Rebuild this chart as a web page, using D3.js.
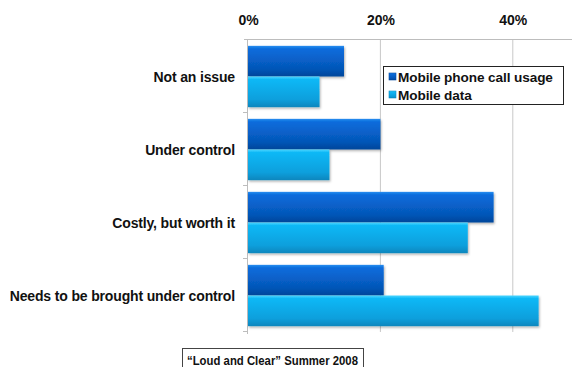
<!DOCTYPE html>
<html>
<head>
<meta charset="utf-8">
<script src="https://cdn.jsdelivr.net/npm/d3@7"></script>
<style>
  html, body { margin: 0; padding: 0; background: #fff; }
  svg { display: block; }
  text { font-family: "Liberation Sans", Arial, sans-serif; }
</style>
</head>
<body>
<script>
// Survey answers about mobile spending, share of respondents (%)
const categories = ["Not an issue", "Under control", "Costly, but worth it", "Needs to be brought under control"];
const seriesNames = ["Mobile phone call usage", "Mobile data"];
const callUsage = [14.5, 20.0, 37.1, 20.5];
const mobileData = [10.8, 12.3, 33.2, 43.9];
const tickValues = [0, 20, 40];
const sourceNote = "\u201CLoud and Clear\u201D Summer 2008";

const W = 572, H = 367;
const margin = { left: 248, top: 40 };
const bandStep = 73;
const plotBottom = margin.top + categories.length * bandStep;

const svg = d3.select("body").append("svg").attr("width", W).attr("height", H);
const defs = svg.append("defs");

// vertical gradients give the bars a slightly bevelled look
const gradients = [
  { id: "g0", stops: ["#2a8ef0", "#0a6cdc", "#0556b8", "#04469a"] },
  { id: "g1", stops: ["#4ad6ff", "#10b8f6", "#0a9fdc", "#0886bd"] }
];
gradients.forEach(g => {
  const lg = defs.append("linearGradient").attr("id", g.id)
    .attr("x1", 0).attr("y1", 0).attr("x2", 0).attr("y2", 1);
  [0, 0.1, 0.75, 1].forEach((o, i) =>
    lg.append("stop").attr("offset", o).attr("stop-color", g.stops[i]));
});
const shadow = defs.append("filter").attr("id", "shadow")
  .attr("x", "-5%").attr("y", "-10%").attr("width", "115%").attr("height", "130%");
shadow.append("feDropShadow").attr("dx", 1).attr("dy", 1.5)
  .attr("stdDeviation", 1).attr("flood-color", "#000").attr("flood-opacity", 0.3);

// percent scale: 20 points span 132 px
const x = d3.scaleLinear().domain([0, 100]).range([margin.left, margin.left + 662]);

const y = d3.scaleBand().domain(categories)
  .range([margin.top, plotBottom]).paddingInner(0.16).paddingOuter(0.08);
const sub = d3.scaleBand().domain([0, 1]).range([0, y.bandwidth()]);

// grid lines
svg.append("g").selectAll("line").data(tickValues.filter(v => v > 0)).join("line")
  .attr("x1", d => x(d)).attr("x2", d => x(d))
  .attr("y1", margin.top).attr("y2", plotBottom)
  .attr("stroke", "#c8c8c8").attr("stroke-width", 1);

// top axis
const xAxis = d3.axisTop(x).tickValues(tickValues).tickFormat(d => d + "%").tickSize(0).tickPadding(15);
const gx = svg.append("g").attr("transform", `translate(0,${margin.top - 0.5})`).call(xAxis);
gx.select(".domain").attr("d", `M${margin.left - 4},0H${W}`).attr("stroke", "#bdbdbd");
gx.selectAll("text").attr("font-size", 14).attr("font-weight", "bold").attr("fill", "#111");

// left axis with band separators
const gy = svg.append("g");
gy.append("line").attr("x1", margin.left - 0.5).attr("x2", margin.left - 0.5)
  .attr("y1", margin.top).attr("y2", plotBottom + 2).attr("stroke", "#bdbdbd");
gy.selectAll("line.sep").data(d3.range(1, categories.length + 1)).join("line").attr("class", "sep")
  .attr("x1", margin.left - 5).attr("x2", margin.left)
  .attr("y1", d => margin.top + d * bandStep - 0.5).attr("y2", d => margin.top + d * bandStep - 0.5)
  .attr("stroke", "#bdbdbd");
gy.selectAll("text").data(categories).join("text")
  .attr("x", 235).attr("y", d => y(d) + y.bandwidth() / 2 + 5)
  .attr("text-anchor", "end").attr("font-size", 14).attr("font-weight", "bold")
  .attr("letter-spacing", -0.15).attr("fill", "#111").text(d => d);

// bars
const rows = categories.map((c, i) => ({ c, vals: [callUsage[i], mobileData[i]] }));
const groups = svg.append("g").selectAll("g").data(rows).join("g")
  .attr("transform", d => `translate(0,${y(d.c)})`);
groups.selectAll("rect").data(d => d.vals).join("rect")
  .attr("x", x(0)).attr("y", (d, i) => sub(i))
  .attr("width", d => x(d) - x(0)).attr("height", sub.bandwidth())
  .attr("fill", (d, i) => `url(#g${i})`)
  .attr("filter", "url(#shadow)");

// legend
const lg = svg.append("g").attr("transform", "translate(383,66)");
lg.append("rect").attr("x", 0.5).attr("y", 0.5).attr("width", 180).attr("height", 38)
  .attr("fill", "#fff").attr("stroke", "#222").attr("stroke-width", 1);
seriesNames.forEach((n, i) => {
  lg.append("rect").attr("x", 6).attr("y", 7 + i * 18).attr("width", 7).attr("height", 7)
    .attr("fill", `url(#g${i})`).attr("stroke", i ? "#0a8cc4" : "#064a9e").attr("stroke-width", 0.6);
  lg.append("text").attr("x", 15).attr("y", 15.5 + i * 18)
    .attr("font-size", 13.6).attr("font-weight", "bold").attr("letter-spacing", -0.1)
    .attr("fill", "#111").text(n);
});

// source note
const note = svg.append("g").attr("transform", "translate(182,348)");
note.append("rect").attr("x", 0.5).attr("y", 0.5).attr("width", 181).attr("height", 22)
  .attr("fill", "#fff").attr("stroke", "#444");
note.append("text").attr("x", 5).attr("y", 16.5)
  .attr("font-family", "'Liberation Sans Narrow', 'Liberation Sans', sans-serif")
  .attr("font-size", 13.5).attr("font-weight", "bold")
  .attr("textLength", 171).attr("lengthAdjust", "spacingAndGlyphs")
  .attr("fill", "#111").text(sourceNote);
</script>
</body>
</html>
